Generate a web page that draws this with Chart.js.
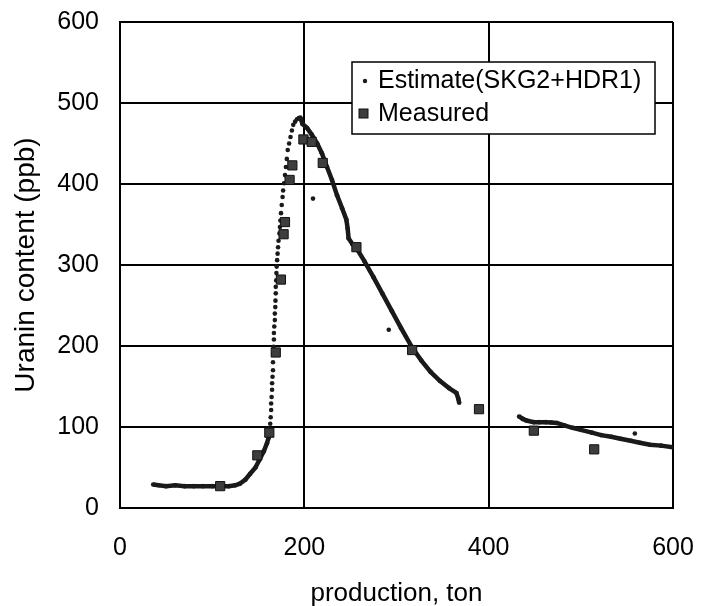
<!DOCTYPE html>
<html>
<head>
<meta charset="utf-8">
<script src="https://cdn.jsdelivr.net/npm/chart.js@4.4.0/dist/chart.umd.min.js"></script>
<style>
  html, body { margin: 0; padding: 0; background: #fff; }
  #wrap { width: 709px; height: 606px; }
</style>
</head>
<body>
<div id="wrap"><canvas id="chart" width="709" height="606"></canvas></div>
<script>
// Estimate (SKG2+HDR1): dots, y = null breaks the line
const estX = [
  36, 42, 50, 60, 70, 80, 90, 100, 110, 118, 125, 130,
  136, 141, 147, 151, 156, 159.5, 161, 162,
  162.5, 163, 163.5, 164, 164, 164.5, 165, 165, 165.5, 166,
  166, 166.3, 166.6, 167, 167, 167.4, 168, 168, 168.5, 168.7,
  169, 169, 169.5, 169.7, 170, 170.5, 171, 171.5, 172, 173,
  173.5, 174, 174.7, 175.5, 176.4, 177, 178, 179, 180, 181,
  182, 183.5, 185, 186.5, 188, 190, 192, 194, 195.7,
  198, 203, 208, 214, 219, 224.6, 230, 235.5, 241, 245.6,
  247, 248, 252, 257, 265, 275, 285, 295, 305, 317,
  327, 337, 347, 357, 365, 367, 368,
  400,
  433, 437, 441, 449, 455, 462, 468, 474, 482, 491,
  500, 512, 522, 533, 543, 554, 564, 575, 587, 600,
  602, 209.4, 210, 291.6, 292, 558.6
];
const estY = [
  29, 28, 27, 28, 27, 27, 27, 27, 27, 27, 28, 30,
  35, 42, 50, 59, 70, 80, 86, 92,
  98, 104, 112, 121, 129, 137, 146, 154, 162, 170,
  180, 190, 199, 208, 216, 224, 232, 240, 248, 256,
  265, 273, 281, 290, 298, 306, 314, 322, 330, 339,
  347, 355, 364, 374, 384, 392, 401, 411, 421, 431,
  442, 450, 458, 466, 473, 477, 480, 481.5, 482,
  474, 469, 461, 450, 438, 421, 405, 386, 370, 356,
  345, 333, 326, 320, 305, 285, 264, 243, 222, 198,
  182, 168, 157, 148, 142, 135, 130,
  null,
  113, 110, 108, 106, 106, 106, 105.5, 105, 102, 99,
  96.5, 93, 90, 88, 85.5, 83, 80.5, 78, 77, 75,
  null, 382, null, 220, null, 92
];

// Measured
const measX = [108.7, 149, 162, 169, 174.6, 177.5, 179, 184, 187, 199, 208, 220, 256.5, 317, 389.5, 449, 514.5];
const measY = [27, 65, 93, 192, 282, 338, 353, 405, 423, 455, 452, 426, 322, 195, 122, 95.5, 72.4];

const xTicks = [0, 200, 400, 600];
const yTicks = [0, 100, 200, 300, 400, 500, 600];

const FONT = "'Liberation Sans', Arial, sans-serif";

// legend drawn as a framed box inside the plot
const boxLegend = {
  id: 'boxLegend',
  afterDraw(chart) {
    const ctx = chart.ctx;
    const est = chart.data.datasets[1];
    const meas = chart.data.datasets[0];
    ctx.save();
    ctx.fillStyle = '#fff';
    ctx.fillRect(352, 62, 303, 72);
    ctx.strokeStyle = '#000';
    ctx.lineWidth = 1.5;
    ctx.strokeRect(352, 62, 303, 72);

    ctx.fillStyle = '#1a1a1a';
    ctx.beginPath();
    ctx.arc(365, 81, 2.2, 0, Math.PI * 2);
    ctx.fill();

    ctx.fillStyle = '#3d3d3d';
    ctx.fillRect(359, 109, 9, 9);
    ctx.strokeStyle = '#111';
    ctx.lineWidth = 1;
    ctx.strokeRect(359, 109, 9, 9);

    ctx.fillStyle = '#000';
    ctx.font = '25px ' + FONT;
    ctx.textBaseline = 'middle';
    ctx.textAlign = 'left';
    ctx.fillText(est.label, 378, 81);
    ctx.fillText(meas.label, 378, 114);
    ctx.restore();
  }
};

const ctx = document.getElementById('chart').getContext('2d');
new Chart(ctx, {
  type: 'scatter',
  data: {
    datasets: [
      {
        label: 'Measured',
        data: measX.map((x, i) => ({ x, y: measY[i] })),
        showLine: false,
        pointStyle: 'rect',
        pointRadius: 6.5,
        pointHoverRadius: 6.5,
        backgroundColor: '#3d3d3d',
        borderColor: '#111',
        borderWidth: 1
      },
      {
        label: 'Estimate(SKG2+HDR1)',
        data: estX.map((x, i) => ({ x, y: estY[i] })),
        showLine: true,
        spanGaps: false,
        tension: 0,
        borderColor: '#1a1a1a',
        borderWidth: 4.5,
        pointRadius: 2.3,
        pointHoverRadius: 2.3,
        pointBackgroundColor: '#1a1a1a',
        pointBorderWidth: 0,
        segment: {
          // the steep rise shows only as separate dots
          borderColor: c => (c.p0.parsed.y >= 88 && c.p1.parsed.y > c.p0.parsed.y) ? 'rgba(0,0,0,0)' : undefined
        }
      }
    ]
  },
  options: {
    responsive: false,
    animation: false,
    devicePixelRatio: 1,
    layout: { padding: { top: 22, right: 36, bottom: 0, left: 0 } },
    plugins: {
      legend: { display: false },
      tooltip: { enabled: false }
    },
    scales: {
      x: {
        type: 'linear',
        min: 0,
        max: 600,
        afterBuildTicks: s => { s.ticks = xTicks.map(v => ({ value: v })); },
        ticks: { padding: 0, color: '#000', font: { family: FONT, size: 25 } },
        grid: { color: '#000', lineWidth: 2, drawTicks: true, tickLength: 25, tickColor: 'rgba(0,0,0,0)' },
        border: { color: '#000', width: 2 },
        title: {
          display: true,
          text: 'production, ton',
          color: '#000',
          font: { family: FONT, size: 26, lineHeight: 0.9 },
          padding: 0
        },
        afterFit: s => { s.height = 98; }
      },
      y: {
        type: 'linear',
        min: 0,
        max: 600,
        afterBuildTicks: s => { s.ticks = yTicks.map(v => ({ value: v })); },
        ticks: { padding: 0, color: '#000', font: { family: FONT, size: 25 } },
        grid: { color: '#000', lineWidth: 2, drawTicks: true, tickLength: 21, tickColor: 'rgba(0,0,0,0)' },
        border: { color: '#000', width: 2 },
        title: {
          display: true,
          text: 'Uranin content (ppb)',
          color: '#000',
          font: { family: FONT, size: 28, lineHeight: 1.2 },
          padding: { top: 9, bottom: 0 }
        },
        afterFit: s => { s.width = 120; }
      }
    }
  },
  plugins: [boxLegend]
});
</script>
</body>
</html>
